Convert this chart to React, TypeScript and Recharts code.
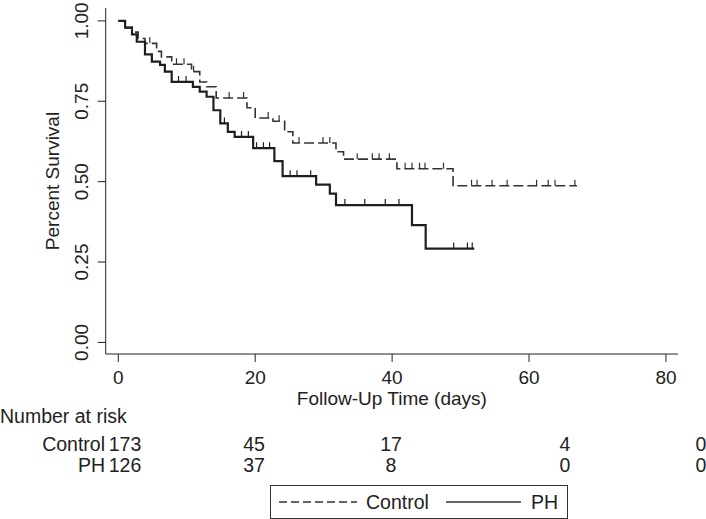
import React from 'react';
import { ComposedChart, Line, XAxis, YAxis } from 'recharts';

// Kaplan-Meier steps (time in days, survival fraction)
const controlTimes = [0, 1.0, 2.0, 2.9, 3.9, 5.6, 6.3, 7.8, 10.7, 11.9, 12.9, 14.3, 18.8, 20.0, 22.6, 24.3, 25.5, 31.8, 32.9, 40.7, 48.9, 67.0];
const controlSurv = [1.0, 0.979, 0.965, 0.945, 0.93, 0.905, 0.888, 0.865, 0.842, 0.81, 0.795, 0.76, 0.73, 0.698, 0.688, 0.655, 0.62, 0.593, 0.57, 0.54, 0.487, 0.487];
const controlCensored = [2.0, 4.6, 8.5, 9.6, 11.0, 16.2, 18.3, 21.9, 23.5, 26.4, 29.9, 30.9, 34.9, 37.1, 38.1, 39.6, 41.9, 42.9, 44.0, 44.8, 47.5, 51.6, 52.4, 54.6, 56.8, 61.1, 62.8, 63.8, 66.7];

const phTimes = [0, 1.0, 2.0, 2.7, 3.9, 4.9, 6.1, 6.8, 7.8, 10.9, 11.9, 12.9, 13.9, 14.9, 16.0, 17.0, 19.7, 22.8, 24.0, 28.9, 30.9, 31.8, 42.9, 44.9, 52.0];
const phSurv = [1.0, 0.979, 0.958, 0.935, 0.896, 0.873, 0.863, 0.842, 0.81, 0.795, 0.78, 0.764, 0.722, 0.681, 0.655, 0.639, 0.604, 0.564, 0.517, 0.491, 0.463, 0.427, 0.365, 0.292, 0.292];
const phCensored = [8.8, 9.9, 15.5, 18.0, 19.0, 20.2, 21.2, 22.1, 25.1, 26.1, 28.1, 33.1, 36.0, 39.0, 41.0, 49.0, 51.0, 51.7];

const xTicks = [0, 20, 40, 60, 80];
const yTicks = [0, 0.25, 0.5, 0.75, 1];

const riskGroups = ['Control', 'PH'];
const controlAtRisk = [173, 45, 17, 4, 0];
const phAtRisk = [126, 37, 8, 0, 0];

const FONT = '"Liberation Sans", Arial, Helvetica, sans-serif';
const INK = '#222';
const FS = 19;

const toSteps = (times: number[], surv: number[]) => times.map((t, i) => ({ t, s: surv[i] }));

// level of the step curve at time t (for placing censor ticks)
const levelAt = (times: number[], surv: number[], t: number) => {
  let s = surv[0];
  for (let i = 0; i < times.length; i++) {
    if (times[i] <= t) s = surv[i];
  }
  return s;
};

const controlData = toSteps(controlTimes, controlSurv);
const phData = toSteps(phTimes, phSurv);
const controlMarks = controlCensored.map((t) => ({ t, s: levelAt(controlTimes, controlSurv, t) }));
const phMarks = phCensored.map((t) => ({ t, s: levelAt(phTimes, phSurv, t) }));

const censorTick = (color: string) => (props: any) => {
  const { cx, cy, index } = props;
  if (cx == null || cy == null) return <g key={index} />;
  return <line key={index} x1={cx} x2={cx} y1={cy} y2={cy - 6} stroke={color} strokeWidth={1.2} />;
};

const XTick = (props: any) => {
  const { x, y, payload } = props;
  return (
    <text x={x} y={y + 20} textAnchor="middle" fontSize={FS} fontFamily={FONT} fill={INK}>
      {payload.value}
    </text>
  );
};

const YTick = (props: any) => {
  const { x, y, payload } = props;
  const bx = x - 8;
  return (
    <text x={bx} y={y} transform={`rotate(-90, ${bx}, ${y})`} textAnchor="middle" fontSize={FS} fontFamily={FONT} fill={INK}>
      {payload.value.toFixed(2)}
    </text>
  );
};

const YTitle = () => (
  <text x={59} y={181} transform="rotate(-90, 59, 181)" textAnchor="middle" fontSize={FS} fontFamily={FONT} fill={INK}>
    Percent Survival
  </text>
);

// column centres of the number-at-risk table
const riskCols = [125, 254, 391, 565, 701];

const textStyle: React.CSSProperties = {
  position: 'absolute',
  fontFamily: FONT,
  fontSize: 19.5,
  color: INK,
  lineHeight: '20px',
  whiteSpace: 'nowrap',
};

export default function App() {
  const rows = [controlAtRisk, phAtRisk];
  return (
    <div style={{ position: 'absolute', left: 0, top: 0, width: 706, height: 519, background: '#fff', overflow: 'hidden' }}>
      <ComposedChart width={706} height={519} margin={{ top: 8, right: 28, left: 0, bottom: 135 }}>
        <XAxis
          dataKey="t"
          type="number"
          domain={[-1.84, 81.76]}
          ticks={xTicks}
          allowDataOverflow
          height={30}
          stroke={INK}
          tickSize={8}
          tick={<XTick />}
          label={{
            value: 'Follow-Up Time (days)',
            position: 'insideBottom',
            offset: -21,
            fontSize: FS,
            fontFamily: FONT,
            fill: INK,
          }}
        />
        <YAxis
          dataKey="s"
          type="number"
          domain={[-0.036, 1.04]}
          ticks={yTicks}
          allowDataOverflow
          width={105.7}
          stroke={INK}
          tickSize={8}
          tick={<YTick />}
          label={<YTitle />}
        />
        <Line
          data={controlData}
          dataKey="s"
          type="stepAfter"
          stroke="#333"
          strokeWidth={1.6}
          strokeDasharray="10 4"
          dot={false}
          activeDot={false}
          isAnimationActive={false}
        />
        <Line
          data={phData}
          dataKey="s"
          type="stepAfter"
          stroke="#1e1e1e"
          strokeWidth={2.2}
          dot={false}
          activeDot={false}
          isAnimationActive={false}
        />
        <Line
          data={controlMarks}
          dataKey="s"
          stroke="none"
          dot={censorTick('#333')}
          activeDot={false}
          isAnimationActive={false}
        />
        <Line
          data={phMarks}
          dataKey="s"
          stroke="none"
          dot={censorTick('#1e1e1e')}
          activeDot={false}
          isAnimationActive={false}
        />
      </ComposedChart>

      <div style={{ ...textStyle, left: 0, top: 406 }}>Number at risk</div>
      {riskGroups.map((g, r) => (
        <React.Fragment key={g}>
          <div style={{ ...textStyle, right: 706 - 105, top: 434 + r * 21, textAlign: 'right' }}>{g}</div>
          {rows[r].map((n, i) => (
            <div
              key={i}
              style={{ ...textStyle, left: riskCols[i] - 30, width: 60, top: 434 + r * 21, textAlign: 'center' }}
            >
              {n}
            </div>
          ))}
        </React.Fragment>
      ))}

      <div
        style={{
          position: 'absolute',
          left: 270,
          top: 485,
          width: 296,
          height: 32,
          border: '1.3px solid #333',
        }}
      >
        <svg width={296} height={32} style={{ position: 'absolute', left: 0, top: 0 }}>
          <line x1={8} x2={86} y1={16} y2={16} stroke="#333" strokeWidth={1.3} strokeDasharray="8 4" />
          <line x1={175} x2={250} y1={16} y2={16} stroke="#333" strokeWidth={1.3} />
        </svg>
        <div style={{ ...textStyle, left: 95, top: 6 }}>Control</div>
        <div style={{ ...textStyle, left: 260, top: 6 }}>PH</div>
      </div>
    </div>
  );
}
